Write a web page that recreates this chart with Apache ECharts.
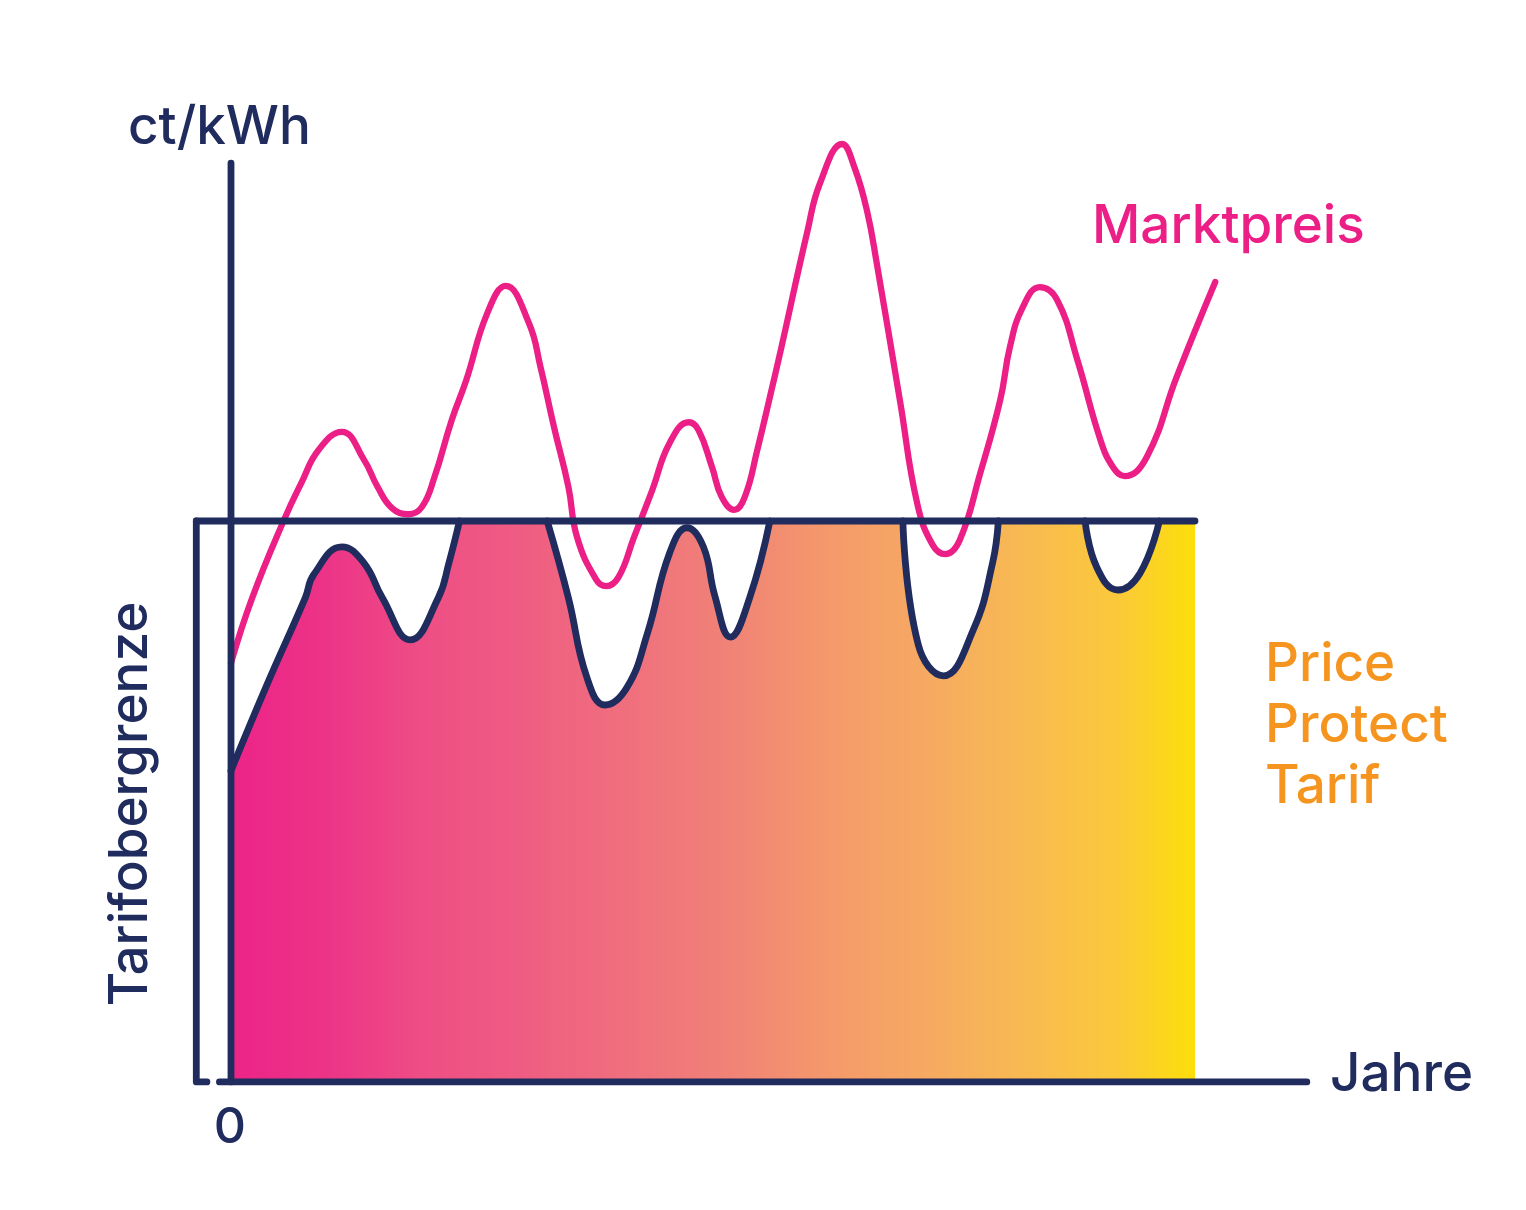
<!DOCTYPE html>
<html>
<head>
    <meta charset="utf-8">
    <title>Price Protect Tarif</title>
    <script src="https://cdn.jsdelivr.net/npm/echarts@6/dist/echarts.min.js"></script>
</head>
<body>
<style>
    html, body, #main {
        width: 100%;
        height: 100%;
        padding: 0;
        margin: 0;
        background: #fff;
    }
</style>

<div id="main"></div>

<script type="text/javascript">
    // Jahre (x) / ct/kWh (y)
    var cap = 10;
    var capStart = -0.36;
    var capEnd = 10;
    var axisTop = 16.38;
    var axisRight = 11.16;

    var marktpreis = [
        [0, 7.47], [0.22, 8.63], [0.55, 10.02], [0.73, 10.68], [0.91, 11.27], [1.15, 11.59],
        [1.38, 11.09], [1.52, 10.61], [1.67, 10.23], [1.84, 10.12], [1.98, 10.25], [2.11, 10.78],
        [2.29, 11.80], [2.44, 12.51], [2.66, 13.71], [2.85, 14.19], [3.09, 13.53], [3.21, 12.75],
        [3.35, 11.68], [3.50, 10.61], [3.59, 9.71], [3.79, 8.95], [3.89, 8.84], [4.02, 9.00],
        [4.18, 9.71], [4.37, 10.55], [4.55, 11.39], [4.75, 11.76], [4.85, 11.62], [4.99, 10.96],
        [5.09, 10.43], [5.22, 10.20], [5.33, 10.43], [5.46, 11.27], [5.60, 12.28], [5.71, 13.10],
        [5.98, 15.17], [6.11, 16.02], [6.34, 16.72], [6.47, 16.29], [6.60, 15.51], [6.70, 14.58],
        [6.94, 12.14], [7.12, 10.30], [7.28, 9.57], [7.41, 9.41], [7.56, 9.66], [7.77, 10.84],
        [7.98, 12.16], [8.08, 13.10], [8.21, 13.80], [8.39, 14.17], [8.57, 13.94], [8.78, 12.87],
        [9.02, 11.44], [9.15, 10.96], [9.27, 10.80], [9.50, 11.14], [9.81, 12.57], [10.21, 14.26]
    ];

    // Tarifpreis unterhalb der Obergrenze (Abschnitte zwischen den Deckelungen)
    var tarif1 = [
        [0, 5.55], [0.38, 7.11], [0.77, 8.63], [0.86, 9.05], [1.15, 9.54], [1.38, 9.25],
        [1.57, 8.63], [1.86, 7.88], [2.15, 8.63], [2.26, 9.25], [2.37, 10]
    ];
    var tarif2 = [
        [3.28, 10], [3.50, 8.63], [3.69, 7.22], [3.88, 6.72], [4.11, 7.04], [4.32, 8.00],
        [4.55, 9.43], [4.73, 9.88], [4.90, 9.54], [5.02, 8.66], [5.18, 7.93], [5.38, 8.63],
        [5.59, 10]
    ];
    var tarif3 = [
        [6.97, 10], [7.13, 7.79], [7.39, 7.24], [7.70, 8.06], [7.90, 9.25], [7.96, 10]
    ];
    var tarif4 = [
        [8.86, 10], [8.98, 9.18], [9.20, 8.77], [9.43, 9.07], [9.63, 10]
    ];

    var navy = '#202B5E';
    var pink = '#EC1F87';
    var orange = '#F5951F';
    var font = '500 {s}px "Inter", "Noto Sans", sans-serif';

    function f(size) {
        return font.replace('{s}', size);
    }

    var myChart = echarts.init(document.getElementById('main'));

    function navyLine(data, z) {
        return {
            type: 'line',
            data: data,
            symbol: 'none',
            z: z,
            silent: true,
            lineStyle: { color: navy, width: 6.8, cap: 'round', join: 'round' }
        };
    }

    // weisse Flaeche ueber der Kurve -> nur unter dem Tarif bleibt der Verlauf sichtbar
    function dip(data) {
        var s = navyLine(data, 2);
        s.smooth = 0.45;
        s.areaStyle = { color: '#fff', opacity: 1, origin: 'end' };
        return s;
    }

    var series = [
        {
            type: 'line',
            data: [[0, cap], [capEnd, cap]],
            symbol: 'none',
            z: 1,
            silent: true,
            lineStyle: { width: 0 },
            areaStyle: {
                opacity: 1,
                origin: 'start',
                color: new echarts.graphic.LinearGradient(0, 0, 1, 0, [
                    { offset: 0, color: '#EC2388' },
                    { offset: 0.1, color: '#EC3487' },
                    { offset: 0.2, color: '#EE4E85' },
                    { offset: 0.3, color: '#EF5C82' },
                    { offset: 0.42, color: '#F0717D' },
                    { offset: 0.52, color: '#F08376' },
                    { offset: 0.62, color: '#F5996B' },
                    { offset: 0.72, color: '#F6A962' },
                    { offset: 0.82, color: '#F8B952' },
                    { offset: 0.92, color: '#FAC93A' },
                    { offset: 1, color: '#FDDE0A' }
                ])
            }
        },
        dip(tarif1),
        dip(tarif2),
        dip(tarif3),
        dip(tarif4),
        {
            type: 'line',
            data: marktpreis,
            smooth: 0.45,
            symbol: 'none',
            z: 3,
            silent: true,
            lineStyle: { color: pink, width: 6.3, cap: 'round', join: 'round' }
        },
        navyLine([[capStart, cap], [capEnd, cap]], 4),
        navyLine([[capStart, cap], [capStart, 0], [-0.25, 0]], 4),
        navyLine([[0, axisTop], [0, 0]], 4),
        navyLine([[-0.12, 0], [axisRight, 0]], 4)
    ];

    myChart.setOption({
        animation: false,
        grid: { left: 182.8, right: 186.4, top: 128.3, bottom: 128 },
        xAxis: { type: 'value', min: -0.5, max: 11.5, show: false },
        yAxis: { type: 'value', min: 0, max: 17, show: false },
        series: series,
        graphic: [
            { type: 'text', z: 100, x: 128, y: 128, style: { text: 'ct/kWh', font: f(53), fill: navy, verticalAlign: 'middle' } },
            { type: 'text', z: 100, x: 1092, y: 227, style: { text: 'Marktpreis', font: f(53), fill: pink, verticalAlign: 'middle' } },
            { type: 'text', z: 100, x: 1265, y: 665, style: { text: 'Price', font: f(53), fill: orange, verticalAlign: 'middle' } },
            { type: 'text', z: 100, x: 1265, y: 726, style: { text: 'Protect', font: f(53), fill: orange, verticalAlign: 'middle' } },
            { type: 'text', z: 100, x: 1265, y: 787, style: { text: 'Tarif', font: f(53), fill: orange, verticalAlign: 'middle' } },
            { type: 'text', z: 100, x: 1330, y: 1075, style: { text: 'Jahre', font: f(53), fill: navy, verticalAlign: 'middle' } },
            { type: 'text', z: 100, x: 230, y: 1128, style: { text: '0', font: f(50), fill: navy, align: 'center', verticalAlign: 'middle' } },
            { type: 'text', z: 100, x: 131, y: 804, rotation: Math.PI / 2, style: { text: 'Tarifobergrenze', font: f(53), fill: navy, align: 'center', verticalAlign: 'middle' } }
        ]
    });
</script>
</body>
</html>
